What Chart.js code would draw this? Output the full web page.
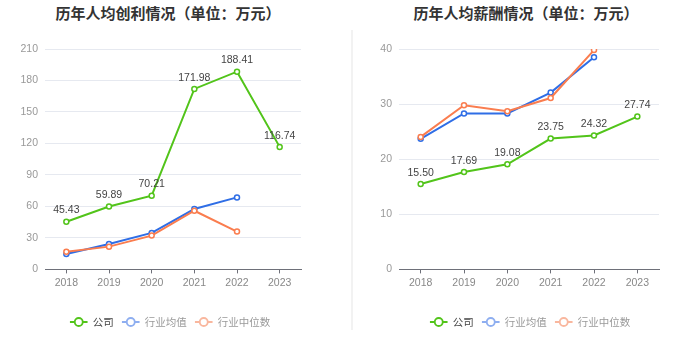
<!DOCTYPE html>
<html>
<head>
<meta charset="utf-8">
<script src="https://cdn.jsdelivr.net/npm/chart.js@4.4.0/dist/chart.umd.min.js"></script>
<style>
  html, body { margin: 0; padding: 0; background: #fff; }
  #wrap { position: relative; width: 700px; height: 359px; overflow: hidden; font-family: "Noto Sans CJK SC", "Noto Sans", sans-serif; }
  .title { position: absolute; top: 2px; font-size: 15px; font-weight: bold; color: #333; white-space: nowrap; transform: translateX(-50%); }
  .divider { position: absolute; left: 351px; top: 30px; width: 2px; height: 300px; background: #f2f2f2; }
  canvas { position: absolute; top: 0; }
  .legend { position: absolute; top: 314px; transform: translateX(-50%); white-space: nowrap; font-size: 10.5px; display: flex; align-items: center; }
  .item { display: flex; align-items: center; margin: 0 4px; }
  .item svg { margin-right: 5px; }
</style>
</head>
<body>
<div id="wrap">
  <div class="title" style="left:168px">历年人均创利情况（单位：万元）</div>
  <div class="title" style="left:526px">历年人均薪酬情况（单位：万元）</div>
  <div class="divider"></div>
  <canvas id="c1" width="340" height="359" style="left:0px"></canvas>
  <canvas id="c2" width="348" height="359" style="left:352px"></canvas>
  <div class="legend" id="lg1" style="left:170px"></div>
  <div class="legend" id="lg2" style="left:530px"></div>
</div>
<script>
// ---- data ----
const years = ["2018", "2019", "2020", "2021", "2022", "2023"];
const seriesNames = ["公司", "行业均值", "行业中位数"];
// 人均创利 (万元)
const profitCompany = [45.43, 59.89, 70.21, 171.98, 188.41, 116.74];
const profitIndustryAvg = [14.7, 24.2, 34.8, 57.5, 68.6, null];
const profitIndustryMedian = [16.9, 21.7, 32.2, 55.9, 36.0, null];
const profitTicks = [0, 30, 60, 90, 120, 150, 180, 210];
// 人均薪酬 (万元)
const salaryCompany = [15.50, 17.69, 19.08, 23.75, 24.32, 27.74];
const salaryIndustryAvg = [23.7, 28.3, 28.3, 32.1, 38.5, null];
const salaryIndustryMedian = [24.05, 29.8, 28.7, 31.1, 39.8, null];
const salaryTicks = [0, 10, 20, 30, 40];

// ---- styles ----
const colors = ["#52c41a", "#2f6ee6", "#fa7d4f"];
const legendMarkColors = ["#52c41a", "#8eaef0", "#f9b79e"];
const legendTextColors = ["#444", "#999", "#999"];
const tickFont = { family: "'Liberation Sans', Arial, sans-serif", size: 10.5 };

const labelPlugin = {
  id: 'valueLabels',
  afterDatasetsDraw(chart) {
    const ctx = chart.ctx;
    const meta = chart.getDatasetMeta(0);
    const ds = chart.data.datasets[0];
    ctx.save();
    ctx.font = "10.5px 'Liberation Sans', Arial, sans-serif";
    ctx.fillStyle = "#444";
    ctx.textAlign = "center";
    ctx.textBaseline = "bottom";
    meta.data.forEach((pt, i) => {
      const v = ds.data[i];
      if (v == null) return;
      ctx.fillText(v.toFixed(2), pt.x, pt.y - 6);
    });
    ctx.restore();
  }
};

function makeDatasets(a, b, c) {
  return [a, b, c].map((d, i) => ({
    label: seriesNames[i],
    data: d,
    borderColor: colors[i],
    backgroundColor: colors[i],
    borderWidth: 2,
    pointRadius: 2.5,
    pointHoverRadius: 2.5,
    pointBorderWidth: 1.5,
    pointBackgroundColor: "#fff",
    pointBorderColor: colors[i],
    tension: 0,
    spanGaps: false,
    order: 3 - i
  }));
}

function makeChart(id, datasets, ticks, yWidth, padRight) {
  const maxV = ticks[ticks.length - 1];
  const step = ticks[1] - ticks[0];
  return new Chart(document.getElementById(id), {
    type: 'line',
    data: { labels: years, datasets },
    plugins: [labelPlugin],
    options: {
      responsive: false,
      animation: false,
      devicePixelRatio: 1,
      layout: { padding: { top: 49, bottom: 67, left: 0, right: padRight } },
      plugins: { legend: { display: false }, title: { display: false }, tooltip: { enabled: false } },
      scales: {
        x: {
          type: 'category',
          offset: true,
          grid: { display: true, drawOnChartArea: false, drawTicks: true, tickLength: 4, offset: false, color: "#6e7079" },
          border: { display: true, color: "#6e7079", width: 1 },
          ticks: { color: "#888", font: tickFont, padding: 3, maxRotation: 0, autoSkip: false }
        },
        y: {
          min: 0, max: maxV,
          afterFit(scale) { scale.width = yWidth; },
          afterBuildTicks(scale) { scale.ticks = ticks.map(v => ({ value: v })); },
          grid: { color: "#e6e9f0", drawTicks: false, lineWidth: 1 },
          border: { display: false },
          ticks: { color: "#999", font: tickFont, padding: 7, stepSize: step }
        }
      }
    }
  });
}

makeChart('c1', makeDatasets(profitCompany, profitIndustryAvg, profitIndustryMedian), profitTicks, 45, 39);
makeChart('c2', makeDatasets(salaryCompany, salaryIndustryAvg, salaryIndustryMedian), salaryTicks, 47, 41);

function buildLegend(id) {
  const el = document.getElementById(id);
  seriesNames.forEach((name, i) => {
    const item = document.createElement('div');
    item.className = 'item';
    const c = legendMarkColors[i];
    item.innerHTML = '<svg width="18" height="12" viewBox="0 0 18 12">' +
      '<line x1="0" y1="6" x2="18" y2="6" stroke="' + c + '" stroke-width="2"/>' +
      '<circle cx="9" cy="6" r="4" fill="#fff" stroke="' + c + '" stroke-width="1.8"/></svg>' +
      '<span style="color:' + legendTextColors[i] + '">' + name + '</span>';
    el.appendChild(item);
  });
}
buildLegend('lg1');
buildLegend('lg2');
</script>
</body>
</html>
